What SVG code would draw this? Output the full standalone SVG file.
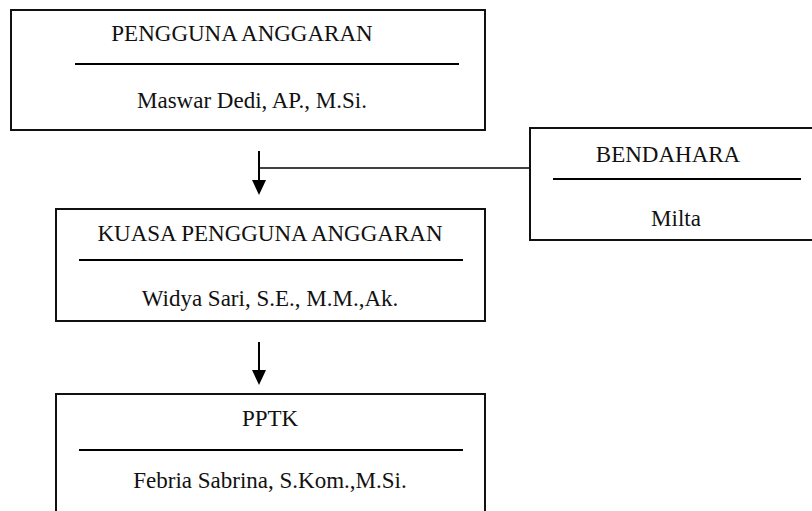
<svg xmlns="http://www.w3.org/2000/svg" width="812" height="511" viewBox="0 0 812 511">
<style>
.box{fill:#fff;stroke:#111;stroke-width:2}
.rule{stroke:#000;stroke-width:2}
.conn{stroke:#000;fill:none}
text{font-family:"Liberation Serif","Times New Roman",serif;font-size:23px;fill:#111;text-anchor:middle}
</style>
<defs>
<marker id="ah" viewBox="0 0 15 14" markerWidth="15" markerHeight="14" refX="0" refY="7" orient="auto" markerUnits="userSpaceOnUse">
<path d="M0,0 L15,7 L0,14 z" fill="#000"/>
</marker>
</defs>
<rect width="812" height="511" fill="#fff"/>
<g id="connectors">
<line class="conn" x1="259" y1="151" x2="259" y2="180" stroke-width="2" marker-end="url(#ah)"/>
<line class="conn" x1="260" y1="168" x2="530" y2="168" stroke-width="1.5"/>
<line class="conn" x1="259" y1="342" x2="259" y2="370" stroke-width="2" marker-end="url(#ah)"/>
</g>
<g id="pengguna-anggaran">
<rect class="box" x="11" y="10" width="474" height="120"/>
<text x="242" y="41">PENGGUNA ANGGARAN</text>
<line class="rule" x1="75" y1="64" x2="459" y2="64"/>
<text x="252" y="108">Maswar Dedi, AP., M.Si.</text>
</g>
<g id="bendahara">
<rect class="box" x="530" y="128" width="300" height="112"/>
<text x="668" y="162">BENDAHARA</text>
<line class="rule" x1="553" y1="179" x2="801" y2="179"/>
<text x="676" y="226">Milta</text>
</g>
<g id="kuasa-pengguna-anggaran">
<rect class="box" x="56" y="209" width="429" height="112"/>
<text x="270" y="241">KUASA PENGGUNA ANGGARAN</text>
<line class="rule" x1="79" y1="260" x2="463" y2="260"/>
<text x="270" y="306">Widya Sari, S.E., M.M.,Ak.</text>
</g>
<g id="pptk">
<rect class="box" x="56" y="394" width="429" height="130"/>
<text x="270" y="426">PPTK</text>
<line class="rule" x1="79" y1="450" x2="463" y2="450"/>
<text x="270" y="488">Febria Sabrina, S.Kom.,M.Si.</text>
</g>
</svg>
